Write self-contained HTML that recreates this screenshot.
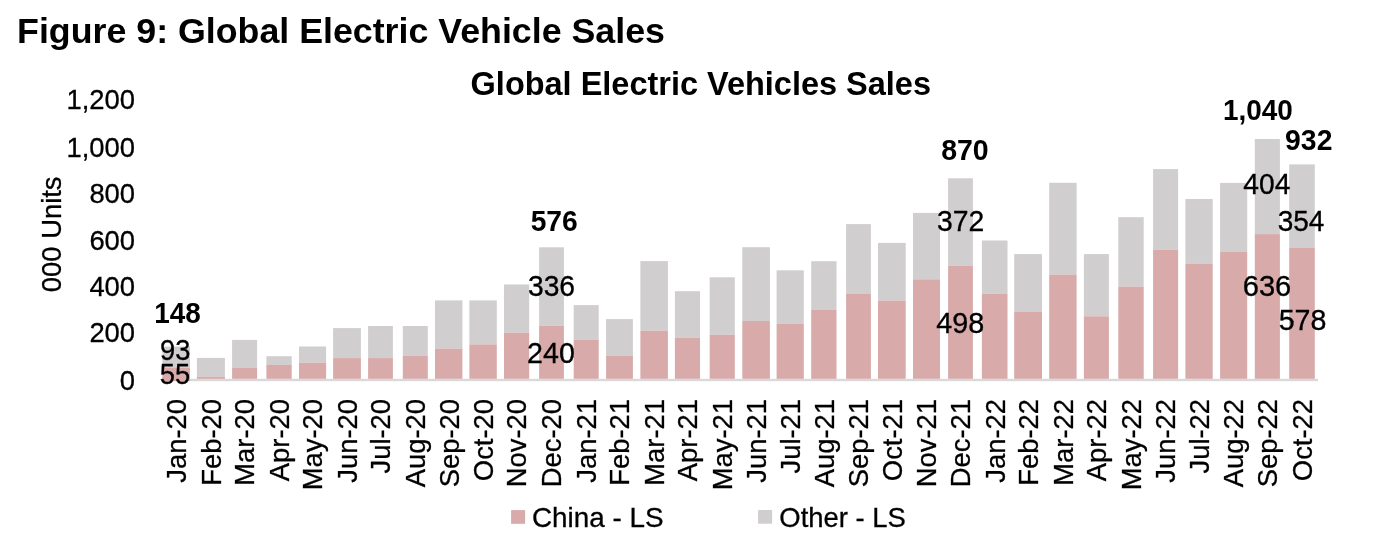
<!DOCTYPE html><html><head><meta charset="utf-8"><style>html,body{margin:0;padding:0;background:#fff;}svg{display:block;filter:blur(0.5px);}text{font-family:"Liberation Sans",sans-serif;fill:#000;stroke:#000;stroke-width:0.3px;}text[font-weight="bold"]{stroke-width:0;}</style></head><body>
<svg width="1383" height="538" viewBox="0 0 1383 538">
<rect width="1383" height="538" fill="#fff"/>
<text x="17.08" y="42.80" font-size="35.8" font-weight="bold" textLength="647.82" lengthAdjust="spacingAndGlyphs">Figure 9: Global Electric Vehicle Sales</text>
<text x="470.60" y="94.70" font-size="32.4" font-weight="bold" textLength="460.38" lengthAdjust="spacingAndGlyphs">Global Electric Vehicles Sales</text>
<rect x="190" y="378.8" width="1128" height="2.4" fill="#d9d9d9"/>
<rect x="162.40" y="346.60" width="27.60" height="21.30" fill="#d0cece"/>
<rect x="162.40" y="367.90" width="27.60" height="13.30" fill="#d8aaaa"/>
<rect x="196.90" y="357.90" width="28.00" height="18.90" fill="#d0cece"/>
<rect x="196.90" y="376.80" width="28.00" height="2.00" fill="#d8aaaa"/>
<rect x="232.10" y="339.90" width="25.00" height="28.10" fill="#d0cece"/>
<rect x="232.10" y="368.00" width="25.00" height="10.80" fill="#d8aaaa"/>
<rect x="266.40" y="356.20" width="25.30" height="8.80" fill="#d0cece"/>
<rect x="266.40" y="365.00" width="25.30" height="13.80" fill="#d8aaaa"/>
<rect x="299.00" y="346.50" width="27.10" height="16.20" fill="#d0cece"/>
<rect x="299.00" y="362.70" width="27.10" height="16.10" fill="#d8aaaa"/>
<rect x="333.10" y="328.10" width="27.80" height="30.00" fill="#d0cece"/>
<rect x="333.10" y="358.10" width="27.80" height="20.70" fill="#d8aaaa"/>
<rect x="368.10" y="326.00" width="24.80" height="32.10" fill="#d0cece"/>
<rect x="368.10" y="358.10" width="24.80" height="20.70" fill="#d8aaaa"/>
<rect x="402.80" y="326.00" width="25.00" height="29.70" fill="#d0cece"/>
<rect x="402.80" y="355.70" width="25.00" height="23.10" fill="#d8aaaa"/>
<rect x="435.00" y="300.40" width="27.40" height="48.20" fill="#d0cece"/>
<rect x="435.00" y="348.60" width="27.40" height="30.20" fill="#d8aaaa"/>
<rect x="469.40" y="300.40" width="27.40" height="44.00" fill="#d0cece"/>
<rect x="469.40" y="344.40" width="27.40" height="34.40" fill="#d8aaaa"/>
<rect x="504.00" y="284.50" width="25.20" height="48.20" fill="#d0cece"/>
<rect x="504.00" y="332.70" width="25.20" height="46.10" fill="#d8aaaa"/>
<rect x="539.10" y="247.30" width="24.80" height="78.40" fill="#d0cece"/>
<rect x="539.10" y="325.70" width="24.80" height="53.10" fill="#d8aaaa"/>
<rect x="573.70" y="305.10" width="25.00" height="34.50" fill="#d0cece"/>
<rect x="573.70" y="339.60" width="25.00" height="39.20" fill="#d8aaaa"/>
<rect x="606.10" y="319.10" width="26.80" height="36.60" fill="#d0cece"/>
<rect x="606.10" y="355.70" width="26.80" height="23.10" fill="#d8aaaa"/>
<rect x="640.40" y="261.10" width="27.50" height="69.60" fill="#d0cece"/>
<rect x="640.40" y="330.70" width="27.50" height="48.10" fill="#d8aaaa"/>
<rect x="674.90" y="291.20" width="25.10" height="46.40" fill="#d0cece"/>
<rect x="674.90" y="337.60" width="25.10" height="41.20" fill="#d8aaaa"/>
<rect x="709.70" y="277.30" width="25.10" height="57.50" fill="#d0cece"/>
<rect x="709.70" y="334.80" width="25.10" height="44.00" fill="#d8aaaa"/>
<rect x="742.30" y="247.20" width="27.60" height="73.70" fill="#d0cece"/>
<rect x="742.30" y="320.90" width="27.60" height="57.90" fill="#d8aaaa"/>
<rect x="776.60" y="270.30" width="27.20" height="53.30" fill="#d0cece"/>
<rect x="776.60" y="323.60" width="27.20" height="55.20" fill="#d8aaaa"/>
<rect x="811.20" y="261.20" width="25.30" height="48.40" fill="#d0cece"/>
<rect x="811.20" y="309.60" width="25.30" height="69.20" fill="#d8aaaa"/>
<rect x="846.10" y="224.10" width="24.80" height="69.80" fill="#d0cece"/>
<rect x="846.10" y="293.90" width="24.80" height="84.90" fill="#d8aaaa"/>
<rect x="878.00" y="242.90" width="27.70" height="57.70" fill="#d0cece"/>
<rect x="878.00" y="300.60" width="27.70" height="78.20" fill="#d8aaaa"/>
<rect x="913.00" y="212.90" width="27.00" height="66.40" fill="#d0cece"/>
<rect x="913.00" y="279.30" width="27.00" height="99.50" fill="#d8aaaa"/>
<rect x="948.10" y="178.30" width="24.80" height="87.50" fill="#d0cece"/>
<rect x="948.10" y="265.80" width="24.80" height="113.00" fill="#d8aaaa"/>
<rect x="981.90" y="240.50" width="25.60" height="53.20" fill="#d0cece"/>
<rect x="981.90" y="293.70" width="25.60" height="85.10" fill="#d8aaaa"/>
<rect x="1014.20" y="254.10" width="27.80" height="57.40" fill="#d0cece"/>
<rect x="1014.20" y="311.50" width="27.80" height="67.30" fill="#d8aaaa"/>
<rect x="1049.20" y="182.80" width="27.40" height="91.80" fill="#d0cece"/>
<rect x="1049.20" y="274.60" width="27.40" height="104.20" fill="#d8aaaa"/>
<rect x="1083.90" y="254.10" width="25.00" height="62.20" fill="#d0cece"/>
<rect x="1083.90" y="316.30" width="25.00" height="62.50" fill="#d8aaaa"/>
<rect x="1118.30" y="217.20" width="25.40" height="69.50" fill="#d0cece"/>
<rect x="1118.30" y="286.70" width="25.40" height="92.10" fill="#d8aaaa"/>
<rect x="1153.10" y="169.10" width="25.00" height="80.70" fill="#d0cece"/>
<rect x="1153.10" y="249.80" width="25.00" height="129.00" fill="#d8aaaa"/>
<rect x="1185.40" y="199.00" width="27.30" height="64.60" fill="#d0cece"/>
<rect x="1185.40" y="263.60" width="27.30" height="115.20" fill="#d8aaaa"/>
<rect x="1220.10" y="182.90" width="27.10" height="68.70" fill="#d0cece"/>
<rect x="1220.10" y="251.60" width="27.10" height="127.20" fill="#d8aaaa"/>
<rect x="1254.80" y="139.00" width="25.10" height="95.10" fill="#d0cece"/>
<rect x="1254.80" y="234.10" width="25.10" height="144.70" fill="#d8aaaa"/>
<rect x="1289.20" y="164.40" width="25.60" height="83.50" fill="#d0cece"/>
<rect x="1289.20" y="247.90" width="25.60" height="130.90" fill="#d8aaaa"/>
<text transform="translate(119.79,390.02) scale(1,1.04)" font-size="27.4">0</text>
<text transform="translate(89.38,342.27) scale(1,1.04)" font-size="27.4">200</text>
<text transform="translate(89.38,296.17) scale(1,1.04)" font-size="27.4">400</text>
<text transform="translate(89.38,250.07) scale(1,1.04)" font-size="27.4">600</text>
<text transform="translate(89.38,203.47) scale(1,1.04)" font-size="27.4">800</text>
<text transform="translate(66.50,157.37) scale(1,1.04)" font-size="27.4">1,000</text>
<text transform="translate(66.50,108.67) scale(1,1.04)" font-size="27.4">1,200</text>
<text transform="translate(60.7,234.3) rotate(-90)" text-anchor="middle" font-size="27.4">000 Units</text>
<text transform="translate(186.01,398.93) rotate(-90)" text-anchor="end" font-size="27.4">Jan-20</text>
<text transform="translate(220.71,398.93) rotate(-90)" text-anchor="end" font-size="27.4">Feb-20</text>
<text transform="translate(254.41,398.93) rotate(-90)" text-anchor="end" font-size="27.4">Mar-20</text>
<text transform="translate(288.86,398.93) rotate(-90)" text-anchor="end" font-size="27.4">Apr-20</text>
<text transform="translate(322.36,398.93) rotate(-90)" text-anchor="end" font-size="27.4">May-20</text>
<text transform="translate(356.81,398.93) rotate(-90)" text-anchor="end" font-size="27.4">Jun-20</text>
<text transform="translate(390.31,398.93) rotate(-90)" text-anchor="end" font-size="27.4">Jul-20</text>
<text transform="translate(425.11,398.93) rotate(-90)" text-anchor="end" font-size="27.4">Aug-20</text>
<text transform="translate(458.51,398.93) rotate(-90)" text-anchor="end" font-size="27.4">Sep-20</text>
<text transform="translate(492.91,398.93) rotate(-90)" text-anchor="end" font-size="27.4">Oct-20</text>
<text transform="translate(526.41,398.93) rotate(-90)" text-anchor="end" font-size="27.4">Nov-20</text>
<text transform="translate(561.31,398.93) rotate(-90)" text-anchor="end" font-size="27.4">Dec-20</text>
<text transform="translate(596.01,398.93) rotate(-90)" text-anchor="end" font-size="27.4">Jan-21</text>
<text transform="translate(629.31,398.93) rotate(-90)" text-anchor="end" font-size="27.4">Feb-21</text>
<text transform="translate(663.96,398.93) rotate(-90)" text-anchor="end" font-size="27.4">Mar-21</text>
<text transform="translate(697.26,398.93) rotate(-90)" text-anchor="end" font-size="27.4">Apr-21</text>
<text transform="translate(732.06,398.93) rotate(-90)" text-anchor="end" font-size="27.4">May-21</text>
<text transform="translate(765.91,398.93) rotate(-90)" text-anchor="end" font-size="27.4">Jun-21</text>
<text transform="translate(800.01,398.93) rotate(-90)" text-anchor="end" font-size="27.4">Jul-21</text>
<text transform="translate(833.66,398.93) rotate(-90)" text-anchor="end" font-size="27.4">Aug-21</text>
<text transform="translate(868.31,398.93) rotate(-90)" text-anchor="end" font-size="27.4">Sep-21</text>
<text transform="translate(901.66,398.93) rotate(-90)" text-anchor="end" font-size="27.4">Oct-21</text>
<text transform="translate(936.31,398.93) rotate(-90)" text-anchor="end" font-size="27.4">Nov-21</text>
<text transform="translate(970.31,398.93) rotate(-90)" text-anchor="end" font-size="27.4">Dec-21</text>
<text transform="translate(1004.51,398.93) rotate(-90)" text-anchor="end" font-size="27.4">Jan-22</text>
<text transform="translate(1037.91,398.93) rotate(-90)" text-anchor="end" font-size="27.4">Feb-22</text>
<text transform="translate(1072.71,398.93) rotate(-90)" text-anchor="end" font-size="27.4">Mar-22</text>
<text transform="translate(1106.21,398.93) rotate(-90)" text-anchor="end" font-size="27.4">Apr-22</text>
<text transform="translate(1140.81,398.93) rotate(-90)" text-anchor="end" font-size="27.4">May-22</text>
<text transform="translate(1175.41,398.93) rotate(-90)" text-anchor="end" font-size="27.4">Jun-22</text>
<text transform="translate(1208.86,398.93) rotate(-90)" text-anchor="end" font-size="27.4">Jul-22</text>
<text transform="translate(1243.46,398.93) rotate(-90)" text-anchor="end" font-size="27.4">Aug-22</text>
<text transform="translate(1277.16,398.93) rotate(-90)" text-anchor="end" font-size="27.4">Sep-22</text>
<text transform="translate(1311.81,398.93) rotate(-90)" text-anchor="end" font-size="27.4">Oct-22</text>
<text transform="translate(154.29,323.07) scale(1.0035,1.0400)" font-size="27.8" font-weight="bold">148</text>
<text transform="translate(159.97,360.37) scale(0.9808,1.0400)" font-size="27.8">93</text>
<text transform="translate(159.80,384.32) scale(0.9817,1.0400)" font-size="27.8">55</text>
<text transform="translate(530.66,231.32) scale(1.0160,1.0400)" font-size="27.8" font-weight="bold">576</text>
<text transform="translate(527.98,296.17) scale(1.0152,1.0400)" font-size="27.8">336</text>
<text transform="translate(527.08,363.02) scale(1.0296,1.0400)" font-size="27.8">240</text>
<text transform="translate(941.15,160.07) scale(1.0258,1.0400)" font-size="27.8" font-weight="bold">870</text>
<text transform="translate(936.97,230.82) scale(1.0206,1.0400)" font-size="27.8">372</text>
<text transform="translate(936.29,333.07) scale(1.0359,1.0400)" font-size="27.8">498</text>
<text transform="translate(1222.99,120.07) scale(1.0047,1.0400)" font-size="27.8" font-weight="bold">1,040</text>
<text transform="translate(1243.30,193.97) scale(1.0164,1.0400)" font-size="27.8">404</text>
<text transform="translate(1242.76,296.47) scale(1.0464,1.0400)" font-size="27.8">636</text>
<text transform="translate(1285.11,150.37) scale(1.0200,1.0400)" font-size="27.8" font-weight="bold">932</text>
<text transform="translate(1277.68,230.92) scale(1.0058,1.0400)" font-size="27.8">354</text>
<text transform="translate(1278.66,330.27) scale(1.0299,1.0400)" font-size="27.8">578</text>
<rect x="511.1" y="510.1" width="14" height="13.7" fill="#d8aaaa"/>
<rect x="758.1" y="510.0" width="14" height="13.7" fill="#d0cece"/>
<text x="531.91" y="526.80" font-size="27.4" textLength="131.63" lengthAdjust="spacingAndGlyphs">China - LS</text>
<text x="779.37" y="526.80" font-size="27.4" textLength="126.45" lengthAdjust="spacingAndGlyphs">Other - LS</text>
</svg></body></html>
